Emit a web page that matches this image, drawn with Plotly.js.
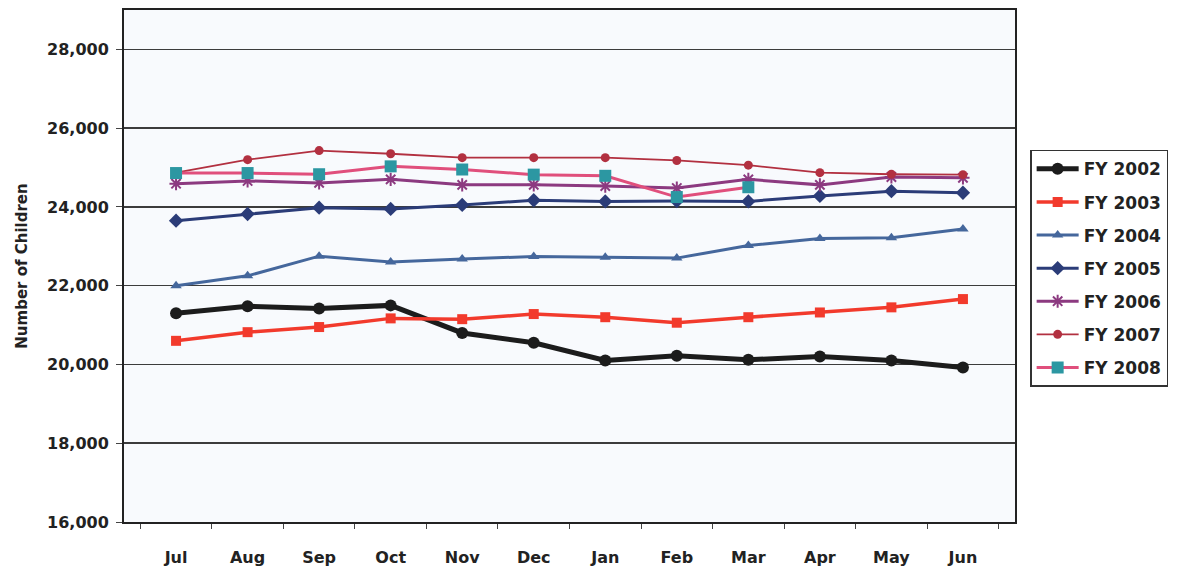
<!DOCTYPE html>
<html>
<head>
<meta charset="utf-8">
<script src="https://cdn.plot.ly/plotly-3.0.1.min.js"></script>
<style>
  html, body { margin: 0; padding: 0; background: #ffffff; }
  #chart { width: 1180px; height: 577px; }
</style>
</head>
<body>
<div id="chart"></div>
<script>
// Monthly count of children, fiscal years July–June
const months = ['Jul', 'Aug', 'Sep', 'Oct', 'Nov', 'Dec', 'Jan', 'Feb', 'Mar', 'Apr', 'May', 'Jun'];

const fy2002 = [21300, 21480, 21420, 21500, 20800, 20550, 20100, 20220, 20120, 20200, 20100, 19920];
const fy2003 = [20600, 20820, 20950, 21170, 21150, 21280, 21200, 21060, 21200, 21320, 21450, 21660];
const fy2004 = [22000, 22250, 22750, 22600, 22680, 22740, 22720, 22700, 23020, 23200, 23220, 23440];
const fy2005 = [23650, 23820, 23980, 23950, 24050, 24170, 24140, 24150, 24140, 24280, 24400, 24360];
const fy2006 = [24590, 24660, 24610, 24700, 24560, 24560, 24530, 24480, 24700, 24560, 24760, 24740];
const fy2007 = [24870, 25200, 25430, 25350, 25250, 25250, 25250, 25180, 25060, 24870, 24830, 24820];
const fy2008 = [24860, 24860, 24830, 25030, 24950, 24820, 24790, 24250, 24500];

const seriesNames = ['FY 2002', 'FY 2003', 'FY 2004', 'FY 2005', 'FY 2006', 'FY 2007', 'FY 2008'];
const yTicks = [16000, 18000, 20000, 22000, 24000, 26000, 28000];

function series(name, values, line, marker) {
  return {
    type: 'scatter',
    mode: 'lines+markers',
    name: name,
    legendgroup: name,
    x: months.slice(0, values.length),
    y: values,
    line: line,
    marker: marker
  };
}

const traces = [
  series(seriesNames[0], fy2002, { color: '#1c1c1c', width: 5 },
         { symbol: 'circle', size: 12, color: '#1c1c1c' }),
  series(seriesNames[1], fy2003, { color: '#f23a2c', width: 3.5 },
         { symbol: 'square', size: 10, color: '#f23a2c' }),
  series(seriesNames[2], fy2004, { color: '#45679c', width: 3 },
         { symbol: 'triangle-up', size: 10, color: '#45679c' }),
  series(seriesNames[3], fy2005, { color: '#2b3c78', width: 3 },
         { symbol: 'diamond', size: 11, color: '#2b3c78' }),
  series(seriesNames[4], fy2006, { color: '#8c3a80', width: 3 },
         { symbol: 'asterisk-open', size: 11, color: '#8c3a80', line: { color: '#8c3a80', width: 2 } }),
  series(seriesNames[5], fy2007, { color: '#b23040', width: 1.8 },
         { symbol: 'circle', size: 9, color: '#b23040' }),
  series(seriesNames[6], fy2008, { color: '#e04f7c', width: 3 },
         { symbol: 'square', size: 12, color: '#2c97a2' })
];

const boldFont = { family: 'DejaVu Sans, Liberation Sans, sans-serif', color: '#222222', weight: 'bold' };
const font = (size) => Object.assign({ size: size }, boldFont);

const layout = {
  width: 1180,
  height: 577,
  margin: { l: 124, r: 165, t: 10, b: 55 },
  paper_bgcolor: '#ffffff',
  plot_bgcolor: '#f8fafd',
  showlegend: true,
  legend: {
    x: 1.017, xanchor: 'left',
    y: 0.727, yanchor: 'top',
    bordercolor: '#333333',
    borderwidth: 1.5,
    bgcolor: '#ffffff',
    tracegroupgap: 8,
    itemwidth: 42,
    font: font(17)
  },
  xaxis: {
    type: 'category',
    categoryorder: 'array',
    categoryarray: months,
    showline: true, mirror: true,
    linecolor: '#222222', linewidth: 2,
    showgrid: false,
    ticks: 'outside', tickson: 'boundaries',
    ticklen: 5, tickcolor: '#444444',
    tickfont: font(16),
    ticklabelstandoff: 20
  },
  yaxis: {
    range: [16000, 29000],
    tickvals: yTicks,
    ticktext: yTicks.map(v => v.toLocaleString('en-US')),
    showline: true, mirror: true,
    linecolor: '#222222', linewidth: 2,
    showgrid: true, gridcolor: '#3c3c3c', gridwidth: 1.5,
    zeroline: false,
    ticks: 'outside', ticklen: 6, tickcolor: '#444444',
    tickfont: font(16),
    ticklabelstandoff: 4,
    title: {
      text: 'Number of Children',
      font: font(15),
      standoff: 16
    }
  }
};

Plotly.newPlot('chart', traces, layout, { displayModeBar: false, staticPlot: true });
</script>
</body>
</html>
